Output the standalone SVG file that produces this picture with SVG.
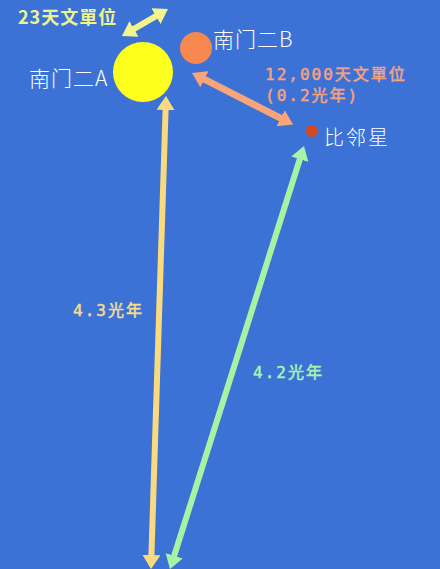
<svg xmlns="http://www.w3.org/2000/svg" width="440" height="569" viewBox="0 0 440 569">
<style>
.lbl{font-family:"Noto Sans CJK SC","Noto Sans CJK TC",sans-serif;font-weight:300;fill:#ffffff;font-size:21px;letter-spacing:1px}
.dist{font-family:"DejaVu Sans Mono","Noto Sans CJK SC",monospace;font-weight:normal;stroke-width:0.5px}
.ln{fill:none;stroke-linecap:butt}
</style>
<defs>
<marker id="mY" markerUnits="userSpaceOnUse" markerWidth="16" markerHeight="18" refX="4" refY="9" orient="auto-start-reverse"><path d="M0,0 L14,9 L0,18 z" fill="#f9db7e"/></marker>
<marker id="mS" markerUnits="userSpaceOnUse" markerWidth="16" markerHeight="18" refX="4" refY="9" orient="auto-start-reverse"><path d="M0,0 L14,9 L0,18 z" fill="#f3f48c"/></marker>
<marker id="mO" markerUnits="userSpaceOnUse" markerWidth="16" markerHeight="18" refX="4" refY="9" orient="auto-start-reverse"><path d="M0,0 L14,9 L0,18 z" fill="#f8a57a"/></marker>
<marker id="mG" markerUnits="userSpaceOnUse" markerWidth="16" markerHeight="18" refX="4" refY="9" orient="auto-start-reverse"><path d="M0,0 L14,9 L0,18 z" fill="#a8f2a4"/></marker>
</defs>
<rect width="440" height="569" fill="#3c72d6"/>
<g id="connectors">
<line class="ln" x1="130.6" y1="30.9" x2="159.4" y2="14.1" stroke="#f3f48c" stroke-width="6" marker-start="url(#mS)" marker-end="url(#mS)"/>
<line class="ln" x1="200.9" y1="77.5" x2="284.2" y2="120" stroke="#f8a57a" stroke-width="7" marker-start="url(#mO)" marker-end="url(#mO)"/>
<line class="ln" x1="165.7" y1="106" x2="151.3" y2="559" stroke="#f9db7e" stroke-width="6" marker-start="url(#mY)" marker-end="url(#mY)"/>
<line class="ln" x1="301" y1="155.5" x2="173" y2="559.5" stroke="#a8f2a4" stroke-width="6" marker-start="url(#mG)" marker-end="url(#mG)"/>
</g>
<g id="alphaA">
<circle cx="143" cy="72" r="30" fill="#ffff1e"/>
<text class="lbl" x="29" y="86">南门二A</text>
</g>
<g id="alphaB">
<circle cx="196" cy="48" r="16" fill="#f5874f"/>
<text class="lbl" x="213" y="47">南门二B</text>
</g>
<g id="proxima">
<circle cx="312" cy="131" r="6" fill="#d8481e"/>
<text class="lbl" x="324" y="145" style="font-size:20px;letter-spacing:2px">比邻星</text>
</g>
<g id="labels">
<text x="18" y="24" style="font-family:'Noto Sans CJK SC',sans-serif;font-weight:bold;font-size:18px;letter-spacing:1px" fill="#eef38e">23天文單位</text>
<text class="dist" x="265" y="80" font-size="16" letter-spacing="2" fill="#f5a27e" stroke="#f5a27e">12,000天文單位</text>
<text class="dist" x="265" y="101" font-size="16" letter-spacing="2" fill="#f5a27e" stroke="#f5a27e">(0.2光年)</text>
<text class="dist" x="73" y="316" font-size="16" letter-spacing="2" fill="#f4de8c" stroke="#f4de8c">4.3光年</text>
<text class="dist" x="253" y="378" font-size="16" letter-spacing="2" fill="#a8f2b0" stroke="#a8f2b0">4.2光年</text>
</g>
</svg>
